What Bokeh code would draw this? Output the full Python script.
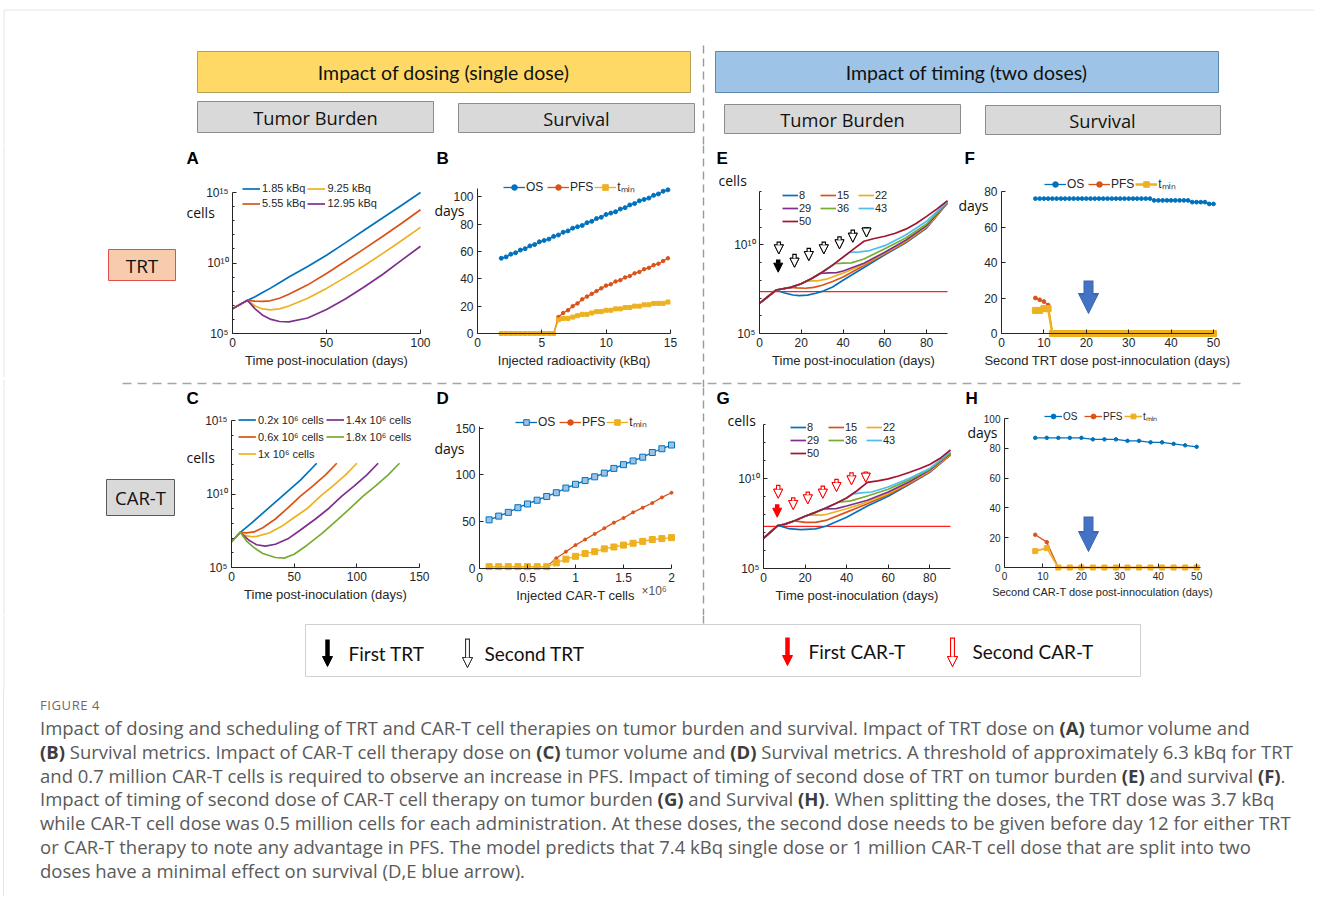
import math
from bokeh.plotting import figure
from bokeh.models import (Range1d, FixedTicker, CustomJSTickFormatter, Legend, LegendItem,
                          Label, Arrow, NormalHead, Div)
from bokeh.layouts import row, column
from bokeh.embed import file_html
from bokeh.resources import INLINE
from bokeh.core.properties import value

# ======================= DATA =======================
# Panel A - TRT single dose, tumour burden (log10 cells)
A_days = [0, 8, 12, 16, 20, 25, 30, 40, 50, 60, 70, 80, 90, 100]
A_log_185 = [6.76, 7.35, 7.6, 7.9, 8.2, 8.6, 9.0, 9.75, 10.55, 11.43, 12.32, 13.21, 14.1, 15.0]
A_log_555 = [6.76, 7.35, 7.3, 7.28, 7.32, 7.5, 7.78, 8.45, 9.25, 10.12, 11.0, 11.9, 12.82, 13.78]
A_log_925 = [6.76, 7.35, 6.95, 6.74, 6.68, 6.75, 6.95, 7.5, 8.2, 8.98, 9.8, 10.68, 11.6, 12.53]
A_log_1295 = [6.76, 7.35, 6.75, 6.3, 6.02, 5.85, 5.82, 6.1, 6.7, 7.45, 8.3, 9.2, 10.2, 11.19]
A_labels = ["1.85 kBq", "5.55 kBq", "9.25 kBq", "12.95 kBq"]

# Panel B - TRT single dose, survival (days)
B_kbq = [1.85, 2.22, 2.59, 2.96, 3.33, 3.70, 4.07, 4.44, 4.81, 5.18, 5.55, 5.92,
         6.29, 6.66, 7.03, 7.40, 7.77, 8.14, 8.51, 8.88, 9.25, 9.62, 9.99, 10.36,
         10.73, 11.10, 11.47, 11.84, 12.21, 12.58, 12.95, 13.32, 13.69, 14.06, 14.43, 14.80]
B_OS = [55, 56, 58, 59, 61, 62, 64, 65, 67, 68, 69, 71, 72, 74, 75, 77, 78, 79,
        81, 82, 84, 85, 87, 88, 89, 91, 92, 94, 95, 97, 98, 99, 101, 102, 104, 105]
B_PFS = [0, 0, 0, 0, 0, 0, 0, 0, 0, 0, 0, 0, 12, 15, 17, 20, 22, 25,
         27, 29, 31, 33, 35, 36, 38, 39, 41, 42, 44, 45, 47, 48, 50, 51, 53, 55]
B_tmin = [0, 0, 0, 0, 0, 0, 0, 0, 0, 0, 0, 0, 10, 11, 11, 12, 13, 14,
          14, 15, 16, 16, 17, 17, 18, 18, 19, 19, 20, 20, 21, 21, 22, 22, 22, 23]

# Panel C - CAR-T single dose, tumour burden (log10 cells)
C_days_02 = [0, 7, 15, 25, 35, 45, 55, 68]
C_log_02 = [6.75, 7.39, 7.95, 8.7, 9.45, 10.2, 10.95, 12.09]
C_days_06 = [0, 7, 12, 18, 25, 35, 45, 55, 65, 75, 84]
C_log_06 = [6.75, 7.39, 7.35, 7.42, 7.7, 8.3, 9.05, 9.85, 10.55, 11.3, 12.09]
C_days_10 = [0, 7, 12, 17, 20, 30, 40, 50, 61, 71, 81, 91, 100]
C_log_10 = [6.75, 7.39, 7.15, 7.09, 7.12, 7.35, 7.8, 8.4, 9.05, 9.85, 10.55, 11.3, 12.09]
C_days_14 = [0, 7, 14, 20, 27, 35, 45, 55, 67, 78, 88, 98, 108, 117]
C_log_14 = [6.75, 7.39, 6.85, 6.55, 6.45, 6.58, 6.95, 7.55, 8.3, 9.05, 9.85, 10.55, 11.3, 12.09]
C_days_18 = [0, 7, 12, 18, 25, 35, 42, 50, 60, 72, 84, 95, 105, 115, 125, 134]
C_log_18 = [6.75, 7.39, 6.8, 6.35, 5.95, 5.68, 5.64, 5.9, 6.5, 7.3, 8.2, 9.05, 9.85, 10.55, 11.3, 12.09]
C_labels = ["0.2x 10\u2076 cells", "0.6x 10\u2076 cells", "1x 10\u2076 cells",
            "1.4x 10\u2076 cells", "1.8x 10\u2076 cells"]

# Panel D - CAR-T single dose, survival (days); x in millions of cells
D_cells = [0.1, 0.2, 0.3, 0.4, 0.5, 0.6, 0.7, 0.8, 0.9, 1.0,
           1.1, 1.2, 1.3, 1.4, 1.5, 1.6, 1.7, 1.8, 1.9, 2.0]
D_OS = [52, 56, 60, 65, 69, 73, 77, 81, 86, 90, 94, 98, 102, 107, 111, 115, 119, 124, 128, 132]
D_PFS = [2, 2, 2, 2, 2, 2, 2, 11, 18, 25, 31, 37, 43, 49, 54, 60, 65, 70, 76, 81]
D_tmin = [2, 2, 2, 2, 2, 2, 2, 6, 10, 13, 16, 18, 21, 23, 25, 27, 29, 31, 32, 33]

# Panel E - TRT two doses, tumour burden (log10 cells), second dose day
E_days_8 = [0, 8, 12, 16, 19, 23, 27, 30, 35, 40, 50, 60, 70, 80, 90]
E_log_8 = [6.7, 7.45, 7.28, 7.17, 7.13, 7.16, 7.27, 7.37, 7.62, 8.0, 8.72, 9.43, 10.11, 10.94, 12.35]
E_days_15 = [0, 8, 15, 18, 22, 26, 30, 35, 40, 50, 60, 70, 80, 90]
E_log_15 = [6.7, 7.45, 7.6, 7.57, 7.55, 7.6, 7.72, 7.93, 8.18, 8.83, 9.49, 10.15, 10.98, 12.36]
E_days_22 = [0, 8, 15, 20, 22, 25, 28, 32, 40, 50, 60, 70, 80, 90]
E_log_22 = [6.7, 7.45, 7.6, 7.8, 7.93, 7.96, 7.97, 8.06, 8.4, 8.9, 9.53, 10.19, 11.02, 12.38]
E_days_29 = [0, 8, 15, 20, 25, 29, 33, 37, 40, 50, 60, 70, 80, 90]
E_log_29 = [6.7, 7.45, 7.6, 7.8, 8.1, 8.38, 8.42, 8.43, 8.52, 8.96, 9.58, 10.25, 11.08, 12.4]
E_days_36 = [0, 8, 15, 20, 25, 30, 36, 40, 44, 50, 60, 70, 80, 90]
E_log_36 = [6.7, 7.45, 7.6, 7.8, 8.1, 8.45, 8.93, 8.96, 8.98, 9.2, 9.78, 10.38, 11.17, 12.42]
E_days_43 = [0, 8, 15, 20, 25, 30, 35, 40, 43, 48, 52, 60, 70, 80, 90]
E_log_43 = [6.7, 7.45, 7.6, 7.8, 8.1, 8.45, 8.85, 9.3, 9.57, 9.6, 9.65, 9.95, 10.55, 11.32, 12.45]
E_days_50 = [0, 8, 15, 20, 25, 30, 35, 40, 45, 50, 55, 60, 65, 70, 75, 80, 85, 90]
E_log_50 = [6.7, 7.45, 7.6, 7.8, 8.1, 8.45, 8.85, 9.3, 9.75, 10.2, 10.35, 10.48, 10.65, 10.88, 11.2, 11.6, 12.02, 12.49]
E_threshold = 2.3e7

# Panel F - TRT two doses, survival vs second-dose day
F_days = [8, 9, 10, 11, 12, 13, 14, 15, 16, 17, 18, 19, 20, 21, 22, 23, 24, 25, 26, 27, 28,
          29, 30, 31, 32, 33, 34, 35, 36, 37, 38, 39, 40, 41, 42, 43, 44, 45, 46, 47, 48, 49, 50]
F_OS = [76, 76, 76, 76, 76, 76, 76, 76, 76, 76, 76, 76, 76, 76, 76, 76, 76, 76, 76, 76, 76,
        76, 76, 76, 76, 76, 76, 76, 75, 75, 75, 75, 75, 75, 75, 75, 75, 74, 74, 74, 74, 73, 73]
F_PFS = [20, 19, 18, 16, 0, 0, 0, 0, 0, 0, 0, 0, 0, 0, 0, 0, 0, 0, 0, 0, 0,
         0, 0, 0, 0, 0, 0, 0, 0, 0, 0, 0, 0, 0, 0, 0, 0, 0, 0, 0, 0, 0, 0]
F_tmin = [13, 13, 14, 14, 0, 0, 0, 0, 0, 0, 0, 0, 0, 0, 0, 0, 0, 0, 0, 0, 0,
          0, 0, 0, 0, 0, 0, 0, 0, 0, 0, 0, 0, 0, 0, 0, 0, 0, 0, 0, 0, 0, 0]

# Panel G - CAR-T two doses, tumour burden (log10 cells)
G_days_8 = [0, 7, 12, 18, 25, 30, 40, 50, 60, 70, 80, 90]
G_log_8 = [6.68, 7.39, 7.22, 7.16, 7.2, 7.35, 7.85, 8.47, 9.01, 9.66, 10.34, 11.31]
G_days_15 = [0, 7, 10, 15, 20, 25, 30, 40, 50, 60, 70, 80, 90]
G_log_15 = [6.68, 7.39, 7.45, 7.65, 7.56, 7.56, 7.67, 8.13, 8.6, 9.1, 9.7, 10.37, 11.32]
G_days_22 = [0, 7, 10, 15, 20, 22, 28, 30, 40, 50, 60, 70, 80, 90]
G_log_22 = [6.68, 7.39, 7.45, 7.65, 7.9, 7.98, 7.97, 8.0, 8.32, 8.69, 9.16, 9.76, 10.41, 11.36]
G_days_29 = [0, 7, 10, 15, 20, 25, 29, 35, 40, 50, 60, 70, 80, 90]
G_log_29 = [6.68, 7.39, 7.45, 7.65, 7.9, 8.12, 8.31, 8.33, 8.47, 8.79, 9.25, 9.81, 10.47, 11.4]
G_days_36 = [0, 7, 10, 15, 20, 25, 30, 36, 42, 50, 60, 70, 80, 90]
G_log_36 = [6.68, 7.39, 7.45, 7.65, 7.9, 8.12, 8.36, 8.68, 8.76, 9.03, 9.4, 9.91, 10.52, 11.44]
G_days_43 = [0, 7, 10, 15, 20, 25, 30, 35, 40, 43, 47, 52, 60, 70, 80, 90]
G_log_43 = [6.68, 7.39, 7.45, 7.65, 7.9, 8.12, 8.36, 8.62, 8.92, 9.15, 9.2, 9.25, 9.53, 10.0, 10.56, 11.49]
G_days_50 = [0, 7, 10, 15, 20, 25, 30, 35, 40, 45, 50, 55, 60, 65, 70, 75, 80, 85, 90]
G_log_50 = [6.68, 7.39, 7.45, 7.65, 7.9, 8.12, 8.36, 8.62, 8.92, 9.32, 9.78, 9.87, 9.98, 10.14, 10.33, 10.54, 10.78, 11.12, 11.59]
G_threshold = 2.2e7
TWO_DOSE_labels = ["8", "15", "22", "29", "36", "43", "50"]

# Panel H - CAR-T two doses, survival vs second-dose day
H_days = [8, 11, 14, 17, 20, 23, 26, 29, 32, 35, 38, 41, 44, 47, 50]
H_OS = [87, 87, 87, 87, 87, 86, 86, 86, 85, 85, 84, 84, 83, 82, 81]
H_PFS = [22, 17, 0, 0, 0, 0, 0, 0, 0, 0, 0, 0, 0, 0, 0]
H_tmin = [11, 13, 0, 0, 0, 0, 0, 0, 0, 0, 0, 0, 0, 0, 0]

SURV_labels = ["OS", "PFS", "t\u2098\u1d62\u2099"]

# ======================= STYLE =======================
C_BLUE, C_RED, C_YEL, C_PUR = "#0072BD", "#D95319", "#EDB120", "#7E2F8E"
C_GRN, C_CYN, C_DRED = "#77AC30", "#4DBEEE", "#A2142F"
AX = "#262626"
LW = 1.7
TWO_COLORS = [C_BLUE, C_RED, C_YEL, C_PUR, C_GRN, C_CYN, C_DRED]

LOG_FMT = CustomJSTickFormatter(code="""
const s = {'0':'\u2070','1':'\u00b9','2':'\u00b2','3':'\u00b3','4':'\u2074','5':'\u2075','6':'\u2076','7':'\u2077','8':'\u2078','9':'\u2079','-':'\u207b'};
const e = Math.round(Math.log10(tick));
return '10' + String(e).split('').map(c => s[c]).join('');
""")
NUM_FMT = CustomJSTickFormatter(code="return String(Math.round(tick*1000)/1000);")


def lg10(vals):
    return [10 ** v for v in vals]


def panel(fx0, fx1, ry0, ry1, fl, fr, ft, fb, xr, yr, ylog, xticks, yticks, yminor,
          xlabel, tick_size="12px", lab_size="13px"):
    """Whole figure is the frame; the data box (fl..fr, ft..fb in page px) is placed
    through the ranges, and the axes are pinned to the data box with fixed_location."""
    kx = (xr[1] - xr[0]) / (fr - fl)
    x_rng = Range1d(xr[0] - (fl - fx0) * kx, xr[1] + (fx1 - fr) * kx)
    a, b = (math.log10(yr[0]), math.log10(yr[1])) if ylog else yr
    ky = (b - a) / (fb - ft)
    lo, hi = a - (ry1 - fb) * ky, b + (ft - ry0) * ky
    y_rng = Range1d(10 ** lo, 10 ** hi) if ylog else Range1d(lo, hi)
    p = figure(width=fx1 - fx0, height=ry1 - ry0, x_range=x_rng, y_range=y_rng,
               y_axis_type="log" if ylog else "linear", output_backend="svg",
               toolbar_location=None, title=None, min_border=0)
    p.outline_line_color = None
    p.grid.visible = False
    p.background_fill_color = "white"
    p.border_fill_color = "white"
    p.xaxis.ticker = FixedTicker(ticks=xticks)
    if ylog:
        p.yaxis.ticker = FixedTicker(ticks=yticks, minor_ticks=yminor)
        p.yaxis.formatter = LOG_FMT
    else:
        p.yaxis.ticker = FixedTicker(ticks=yticks)
        p.yaxis.formatter = NUM_FMT
    p.xaxis.formatter = NUM_FMT
    p.xaxis.axis_label = xlabel
    p.xaxis.fixed_location = yr[0]
    p.xaxis.bounds = xr
    p.yaxis.fixed_location = xr[0]
    p.yaxis.bounds = yr
    for ax in (p.xaxis[0], p.yaxis[0]):
        ax.axis_line_color = AX
        ax.axis_line_width = 1
        ax.major_tick_line_color = AX
        ax.minor_tick_line_color = AX
        ax.major_tick_in = 4
        ax.major_tick_out = 0
        ax.minor_tick_in = 2
        ax.minor_tick_out = 0
        ax.major_label_text_color = AX
        ax.major_label_text_font = "Liberation Sans"
        ax.major_label_text_font_size = tick_size
        ax.major_label_standoff = 4
        ax.axis_label_text_font = "Liberation Sans"
        ax.axis_label_text_font_style = "normal"
        ax.axis_label_text_font_size = lab_size
        ax.axis_label_text_color = AX
        ax.axis_label_standoff = 3
    return p, (fx0, ry1)


def txt(p, fr, ix, iy, s, size="13px", font="Liberation Sans", bold=False, color=AX, align="left"):
    p.add_layout(Label(x=ix - fr[0], y=fr[1] - iy, x_units="screen", y_units="screen", text=s,
                       text_font=font, text_font_size=size,
                       text_font_style="bold" if bold else "normal",
                       text_align=align, text_baseline="middle", text_color=color))


def add_legend(p, fr, items, ix, iy_bottom, font="11px", gw=18, gh=13, lh=13, spacing=2,
               standoff=2, **kw):
    lg = Legend(items=[LegendItem(label=l, renderers=r) for l, r in items],
                location=(ix - fr[0], fr[1] - iy_bottom),
                background_fill_alpha=0, border_line_alpha=0, padding=0, margin=0,
                spacing=spacing, glyph_width=gw, glyph_height=gh, label_height=lh,
                label_standoff=standoff, label_text_font="Liberation Sans",
                label_text_font_size=font, label_text_color=AX, **kw)
    p.add_layout(lg)


def block_arrow(p, x, y_top, y_tip, color, hollow, stem, head, units="screen", down=1):
    fill = "white" if hollow else color
    p.add_layout(Arrow(x_start=x, y_start=y_top, x_end=x, y_end=y_tip,
                       start_units=units, end_units=units, line_color=color, line_width=stem,
                       end=NormalHead(size=head, fill_color=fill, line_color=color, line_width=1)))
    if hollow:
        p.add_layout(Arrow(x_start=x, y_start=y_top - 1.3 * down, x_end=x, y_end=y_tip,
                           start_units=units, end_units=units, line_color="white",
                           line_width=stem - 2.2,
                           end=NormalHead(size=head, fill_color="white", line_color=color,
                                          line_width=1)))


def arr_img(p, fr, ix, iy_top, iy_tip, color, hollow, stem=4.5, head=9):
    block_arrow(p, ix - fr[0], fr[1] - iy_top, fr[1] - iy_tip, color, hollow, stem, head)


def deco(x0, x1, y0, y1):
    p = figure(width=x1 - x0, height=y1 - y0, x_range=Range1d(x0, x1), y_range=Range1d(y1, y0),
               x_axis_location=None, y_axis_location=None, output_backend="svg",
               toolbar_location=None, title=None, min_border=0)
    p.outline_line_color = None
    p.grid.visible = False
    p.background_fill_color = "white"
    p.border_fill_color = "white"
    return p


def card_edge(p, y0, y1):
    p.segment(x0=[3.5], y0=[y0], x1=[3.5], y1=[y1], line_color="#e4e4e4", line_width=1)


DASH = dict(line_color="#9a9a9a", line_width=1.4, line_dash="8 5")
VX = 703
TITLE_FONT = "Lato"
BOX_FONT = "Open Sans"
SPLIT = 432   # boundary between the first and second panel column

# ======================= HEADER =======================
hdr = deco(0, 1314, 0, 145)
hdr.segment(x0=[3.5], y0=[9.5], x1=[1314], y1=[9.5], line_color="#e4e4e4", line_width=1)
card_edge(hdr, 9.5, 145)
hdr.segment(x0=[VX], y0=[45], x1=[VX], y1=[145], **DASH)
hdr.quad(left=[197], right=[690], top=[51], bottom=[92], fill_color="#FFD966", line_color="#B8A058", line_width=1)
hdr.quad(left=[715], right=[1218], top=[51], bottom=[92], fill_color="#9DC3E6", line_color="#5B87B0", line_width=1)
hdr.quad(left=[197, 458, 724, 985], right=[433, 694, 960, 1220], top=[101, 103, 104, 105],
         bottom=[132, 132, 133, 134], fill_color="#D9D9D9", line_color="#8C8C8C", line_width=1)
hdr.text(x=[443, 966], y=[72, 72], text=["Impact of dosing (single dose)", "Impact of timing (two doses)"],
         text_font=value(TITLE_FONT), text_font_size="19.5px", text_align="center",
         text_baseline="middle", text_color="#111111")
hdr.text(x=[315, 576, 842, 1102], y=[117, 118, 119, 120],
         text=["Tumor Burden", "Survival", "Tumor Burden", "Survival"],
         text_font=value(BOX_FONT), text_font_size="18.3px", text_align="center",
         text_baseline="middle", text_color="#111111")

# ======================= ROW 1 =======================
L1 = deco(0, 180, 145, 377)
card_edge(L1, 145, 377)
L1.quad(left=[108], right=[175], top=[249], bottom=[280], fill_color="#F8CBAD", line_color="#E0504A", line_width=1)
L1.text(x=[141.5], y=[265], text=["TRT"], text_font=value(BOX_FONT), text_font_size="19px",
        text_align="center", text_baseline="middle", text_color="#111111")

# --- A
pA, fA = panel(180, SPLIT, 145, 377, 232, 420, 192, 333, (0, 100), (1e5, 1e15), True,
               [0, 50, 100], [1e5, 1e10, 1e15],
               [1e6, 1e7, 1e8, 1e9, 1e11, 1e12, 1e13, 1e14], "Time post-inoculation (days)")
rA = [pA.line(A_days, lg10(v), line_color=c, line_width=LW)
      for v, c in zip([A_log_185, A_log_555, A_log_925, A_log_1295], [C_BLUE, C_RED, C_YEL, C_PUR])]
add_legend(pA, fA, [(A_labels[i], [rA[i]]) for i in range(4)], 242, 209.5,
           orientation="vertical", nrows=2)
txt(pA, fA, 186, 158, "A", size="17px", bold=True, color="black")
txt(pA, fA, 186, 212, "cells", size="14px", font=BOX_FONT, color="#111111")

# --- B
pB, fB = panel(SPLIT, 695, 145, 377, 477, 670, 188, 333, (0, 15), (0, 106), False,
               [0, 5, 10, 15], [0, 20, 40, 60, 80, 100], None, "Injected radioactivity (kBq)")
bo = [pB.line(B_kbq, B_OS, line_color=C_BLUE, line_width=1.3),
      pB.scatter(B_kbq, B_OS, marker="circle", size=4, fill_color=C_BLUE, line_color=C_BLUE)]
bp = [pB.line(B_kbq, B_PFS, line_color=C_RED, line_width=1.3),
      pB.scatter(B_kbq, B_PFS, marker="circle", size=3.5, fill_color=C_RED, line_color=C_RED)]
bt = [pB.line(B_kbq, B_tmin, line_color=C_YEL, line_width=1.3),
      pB.scatter(B_kbq, B_tmin, marker="square", size=4, fill_color=C_YEL, line_color=C_YEL)]
add_legend(pB, fB, [(SURV_labels[0], bo), (SURV_labels[1], bp), (SURV_labels[2], bt)], 503, 195,
           font="12px", gw=22, gh=14, lh=14, spacing=1, standoff=1, orientation="horizontal")
txt(pB, fB, 436, 158, "B", size="17px", bold=True, color="black")
txt(pB, fB, 434, 210, "days", size="14px", font=BOX_FONT, color="#111111")

V1 = deco(695, 712, 145, 377)
V1.segment(x0=[VX], y0=[145], x1=[VX], y1=[377], **DASH)

# --- E
E_xlim = (0, 90)
pE, fE = panel(712, 958, 145, 377, 759, 947, 191, 333, E_xlim, (1e5, 1e13), True,
               [0, 20, 40, 60, 80], [1e5, 1e10],
               [1e6, 1e7, 1e8, 1e9, 1e11, 1e12, 1e13], "Time post-inoculation (days)")
E_sets = [(E_days_8, E_log_8), (E_days_15, E_log_15), (E_days_22, E_log_22), (E_days_29, E_log_29),
          (E_days_36, E_log_36), (E_days_43, E_log_43), (E_days_50, E_log_50)]
pE.line(list(E_xlim), [E_threshold, E_threshold], line_color="#FF2020", line_width=1.4)
rE = [pE.line(d, lg10(v), line_color=c, line_width=LW) for (d, v), c in zip(E_sets, TWO_COLORS)]
add_legend(pE, fE, [(TWO_DOSE_labels[i], [rE[i]]) for i in range(7)], 782, 226.5,
           gw=16, gh=12, lh=12, spacing=1, standoff=1, orientation="horizontal", ncols=3)
arr_img(pE, fE, 777.7, 259, 271.7, "black", False)
for ax_, t_, b_ in [(778.3, 241, 253.3), (794, 253.3, 266.7), (808.3, 247.3, 260), (823.3, 241, 253.3),
                    (839, 235.7, 248.3), (852.3, 229, 241.7), (866, 226.7, 236.5)]:
    arr_img(pE, fE, ax_, t_, b_, "black", True)
txt(pE, fE, 716, 158, "E", size="17px", bold=True, color="black")
txt(pE, fE, 718, 180, "cells", size="14px", font=BOX_FONT, color="#111111")

# --- F
pF, fF = panel(958, 1314, 145, 377, 1001, 1213, 191, 333, (0, 50), (0, 80), False,
               [0, 10, 20, 30, 40, 50], [0, 20, 40, 60, 80], None,
               "Second TRT dose post-innoculation (days)")
fo = [pF.line(F_days, F_OS, line_color=C_BLUE, line_width=1.3),
      pF.scatter(F_days, F_OS, marker="circle", size=3.8, fill_color=C_BLUE, line_color=C_BLUE)]
fp = [pF.line(F_days, F_PFS, line_color=C_RED, line_width=1.3),
      pF.scatter(F_days, F_PFS, marker="circle", size=3.8, fill_color=C_RED, line_color=C_RED)]
ft = [pF.line(F_days, F_tmin, line_color=C_YEL, line_width=2.5),
      pF.scatter(F_days, F_tmin, marker="square", size=6, fill_color=C_YEL, line_color=C_YEL)]
add_legend(pF, fF, [(SURV_labels[0], fo), (SURV_labels[1], fp), (SURV_labels[2], ft)], 1044, 192,
           font="12px", gw=22, gh=14, lh=14, spacing=1, standoff=1, orientation="horizontal")
block_arrow(pF, 1088 - fF[0], fF[1] - 280, fF[1] - 313, "#3E66B0", False, 10, 20)
block_arrow(pF, 1088 - fF[0], fF[1] - 281, fF[1] - 312, "#4472C4", False, 8, 17)
txt(pF, fF, 964, 158, "F", size="17px", bold=True, color="black")
txt(pF, fF, 958, 205, "days", size="14px", font=BOX_FONT, color="#111111")

# ======================= SEPARATOR =======================
sep = deco(0, 1314, 377, 387)
card_edge(sep, 377, 387)
sep.segment(x0=[VX], y0=[377], x1=[VX], y1=[387], **DASH)
sep.segment(x0=[122], y0=[381], x1=[1240], y1=[381], line_color="#a5a5a5", line_width=1.4, line_dash="9 6")

# ======================= ROW 2 =======================
L2 = deco(0, 180, 387, 615)
card_edge(L2, 387, 615)
L2.quad(left=[106], right=[174], top=[479], bottom=[515], fill_color="#D9D9D9", line_color="#595959", line_width=1)
L2.text(x=[140], y=[497], text=["CAR-T"], text_font=value(BOX_FONT), text_font_size="18.5px",
        text_align="center", text_baseline="middle", text_color="#111111")

# --- C
pC, fC = panel(180, SPLIT, 387, 615, 231, 419, 420, 567, (0, 150), (1e5, 1e15), True,
               [0, 50, 100, 150], [1e5, 1e10, 1e15],
               [1e6, 1e7, 1e8, 1e9, 1e11, 1e12, 1e13, 1e14], "Time post-inoculation (days)")
C_sets = [(C_days_02, C_log_02), (C_days_06, C_log_06), (C_days_10, C_log_10),
          (C_days_14, C_log_14), (C_days_18, C_log_18)]
rC = [pC.line(d, lg10(v), line_color=c, line_width=LW)
      for (d, v), c in zip(C_sets, [C_BLUE, C_RED, C_YEL, C_PUR, C_GRN])]
add_legend(pC, fC, [(C_labels[i], [rC[i]]) for i in range(5)], 238, 461,
           gw=18, gh=15, lh=15, spacing=2, standoff=2, orientation="vertical", nrows=3)
txt(pC, fC, 186, 398, "C", size="17px", bold=True, color="black")
txt(pC, fC, 186, 457, "cells", size="14px", font=BOX_FONT, color="#111111")

# --- D
pD, fD = panel(SPLIT, 695, 387, 615, 479, 671, 426, 568, (0, 2), (0, 151.8), False,
               [0, 0.5, 1, 1.5, 2], [0, 50, 100, 150], None, "Injected CAR-T cells")
do = [pD.line(D_cells, D_OS, line_color=C_BLUE, line_width=1.3),
      pD.scatter(D_cells, D_OS, marker="square", size=6, fill_color="#9cc2e5", line_color=C_BLUE)]
dp = [pD.line(D_cells, D_PFS, line_color=C_RED, line_width=1.3),
      pD.scatter(D_cells, D_PFS, marker="circle", size=3, fill_color=C_RED, line_color=C_RED)]
dt = [pD.line(D_cells, D_tmin, line_color=C_YEL, line_width=1.3),
      pD.scatter(D_cells, D_tmin, marker="square", size=6, fill_color=C_YEL, line_color=C_YEL)]
add_legend(pD, fD, [(SURV_labels[0], do), (SURV_labels[1], dp), (SURV_labels[2], dt)], 515, 430,
           font="12px", gw=22, gh=14, lh=14, spacing=1, standoff=1, orientation="horizontal")
txt(pD, fD, 436, 398, "D", size="17px", bold=True, color="black")
txt(pD, fD, 434, 448, "days", size="14px", font=BOX_FONT, color="#111111")
txt(pD, fD, 641, 590, "\u00d710\u2076", size="12px", color="#555555")

V2 = deco(695, 712, 387, 615)
V2.segment(x0=[VX], y0=[387], x1=[VX], y1=[615], **DASH)

# --- G
G_xlim = (0, 90)
pG, fG = panel(712, 958, 387, 615, 763, 950, 424, 568, G_xlim, (1e5, 1e13), True,
               [0, 20, 40, 60, 80], [1e5, 1e10],
               [1e6, 1e7, 1e8, 1e9, 1e11, 1e12, 1e13], "Time post-inoculation (days)")
G_sets = [(G_days_8, G_log_8), (G_days_15, G_log_15), (G_days_22, G_log_22), (G_days_29, G_log_29),
          (G_days_36, G_log_36), (G_days_43, G_log_43), (G_days_50, G_log_50)]
pG.line(list(G_xlim), [G_threshold, G_threshold], line_color="#FF2020", line_width=1.4)
rG = [pG.line(d, lg10(v), line_color=c, line_width=LW) for (d, v), c in zip(G_sets, TWO_COLORS)]
add_legend(pG, fG, [(TWO_DOSE_labels[i], [rG[i]]) for i in range(7)], 790, 458.5,
           gw=16, gh=12, lh=12, spacing=1, standoff=1, orientation="horizontal", ncols=3)
arr_img(pG, fG, 776.7, 503.7, 516.7, "#FF0000", False)
for ax_, t_, b_ in [(777.7, 484.3, 497.7), (792.7, 496.7, 509), (807.3, 491, 503.3), (822.3, 485, 497.7),
                    (836, 478.3, 491), (851, 471.7, 484.3), (865.3, 471, 481.7)]:
    arr_img(pG, fG, ax_, t_, b_, "#FF0000", True)
txt(pG, fG, 716, 398, "G", size="17px", bold=True, color="black")
txt(pG, fG, 727, 420, "cells", size="14px", font=BOX_FONT, color="#111111")

# --- H
pH, fH = panel(958, 1314, 387, 615, 1004, 1200, 418, 567, (0, 51), (0, 100), False,
               [0, 10, 20, 30, 40, 50], [0, 20, 40, 60, 80, 100], None,
               "Second CAR-T dose post-innoculation (days)", tick_size="10px", lab_size="11px")
ho = [pH.line(H_days, H_OS, line_color=C_BLUE, line_width=1.3),
      pH.scatter(H_days, H_OS, marker="circle", size=3.5, fill_color=C_BLUE, line_color=C_BLUE)]
hp = [pH.line(H_days, H_PFS, line_color=C_RED, line_width=1.3),
      pH.scatter(H_days, H_PFS, marker="circle", size=3.5, fill_color=C_RED, line_color=C_RED)]
ht = [pH.line(H_days, H_tmin, line_color=C_YEL, line_width=1.6),
      pH.scatter(H_days, H_tmin, marker="square", size=5, fill_color=C_YEL, line_color=C_YEL)]
add_legend(pH, fH, [(SURV_labels[0], ho), (SURV_labels[1], hp), (SURV_labels[2], ht)], 1044, 423,
           font="10px", gw=18, gh=12, lh=12, spacing=1, standoff=1, orientation="horizontal")
block_arrow(pH, 1088 - fH[0], fH[1] - 516, fH[1] - 551, "#3E66B0", False, 10, 20)
block_arrow(pH, 1088 - fH[0], fH[1] - 517, fH[1] - 550, "#4472C4", False, 8, 17)
txt(pH, fH, 965, 398, "H", size="17px", bold=True, color="black")
txt(pH, fH, 967, 432, "days", size="14px", font=BOX_FONT, color="#111111")

# ======================= ARROW LEGEND =======================
leg = deco(0, 1314, 615, 690)
card_edge(leg, 615, 690)
leg.segment(x0=[VX], y0=[615], x1=[VX], y1=[624], **DASH)
leg.quad(left=[305], right=[1140], top=[624], bottom=[676], fill_color="white", line_color="#d0d0d0", line_width=1)
block_arrow(leg, 327, 639, 666, "black", False, 4.5, 10, units="data", down=-1)
block_arrow(leg, 467, 638, 667, "#333333", True, 5, 10, units="data", down=-1)
block_arrow(leg, 787, 637, 665, "#FF0000", False, 4.5, 10, units="data", down=-1)
block_arrow(leg, 952, 637, 666, "#FF0000", True, 5, 10, units="data", down=-1)
leg.text(x=[348, 484, 808, 972], y=[653, 653, 651, 651],
         text=["First TRT", "Second TRT", "First CAR-T", "Second CAR-T"],
         text_font=value(TITLE_FONT), text_font_size="19px", text_align="left",
         text_baseline="middle", text_color="#111111")

# ======================= CAPTION =======================
B_ = lambda s: '<b style="color:#3d3d3d;font-weight:700">' + s + '</b>'
cap_lines = [
    "Impact of dosing and scheduling of TRT and CAR-T cell therapies on tumor burden and survival. Impact of TRT dose on " + B_("(A)") + " tumor volume and",
    B_("(B)") + " Survival metrics. Impact of CAR-T cell therapy dose on " + B_("(C)") + " tumor volume and " + B_("(D)") + " Survival metrics. A threshold of approximately 6.3 kBq for TRT",
    "and 0.7 million CAR-T cells is required to observe an increase in PFS. Impact of timing of second dose of TRT on tumor burden " + B_("(E)") + " and survival " + B_("(F)") + ".",
    "Impact of timing of second dose of CAR-T cell therapy on tumor burden " + B_("(G)") + " and Survival " + B_("(H)") + ". When splitting the doses, the TRT dose was 3.7 kBq",
    "while CAR-T cell dose was 0.5 million cells for each administration. At these doses, the second dose needs to be given before day 12 for either TRT",
    "or CAR-T therapy to note any advantage in PFS. The model predicts that 7.4 kBq single dose or 1 million CAR-T cell dose that are split into two",
    "doses have a minimal effect on survival (D,E blue arrow).",
]
cap_html = (
    '<div style="font-family:\'Open Sans\',Lato,sans-serif;color:#5a5a5a;white-space:nowrap;'
    'margin:0 0 0 3px;padding-left:36px;border-left:1px solid #e4e4e4;height:206px;box-sizing:border-box;">'
    '<div style="font-size:13px;letter-spacing:0.6px;height:26px;line-height:30px;color:#6a6a6a;">FIGURE 4</div>'
    '<div style="font-size:18.5px;line-height:23.8px;">' + "<br>".join(cap_lines) + '</div></div>'
)
caption = Div(text=cap_html, width=1314, height=206, margin=(0, 0, 0, 0))

layout = column(
    hdr,
    row(L1, pA, pB, V1, pE, pF),
    sep,
    row(L2, pC, pD, V2, pG, pH),
    leg,
    caption,
)

open("out.html", "w").write(file_html(layout, INLINE))
